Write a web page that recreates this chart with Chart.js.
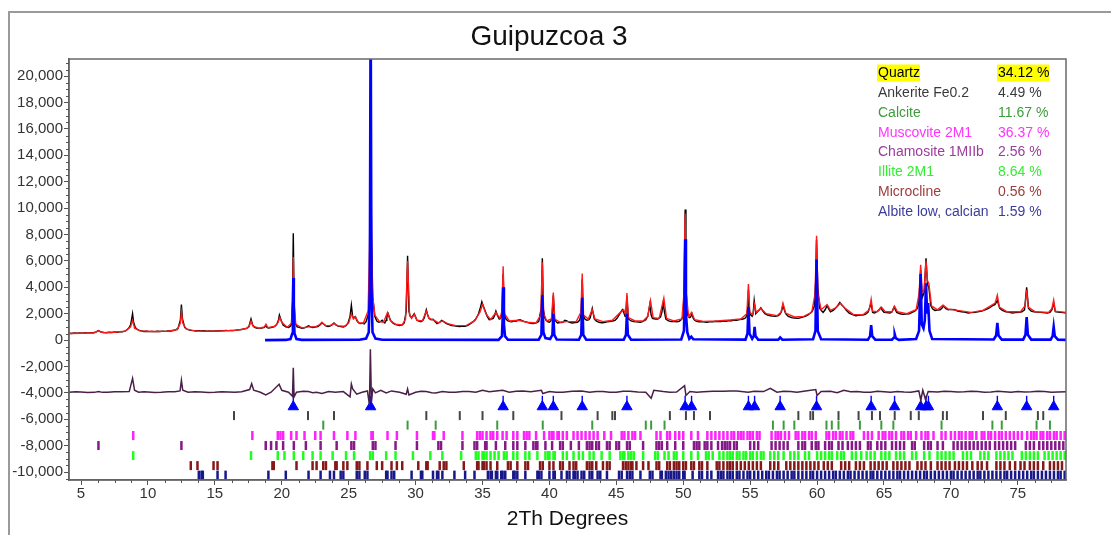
<!DOCTYPE html>
<html>
<head>
<meta charset="utf-8">
<title>Guipuzcoa 3</title>
<script src="https://cdn.jsdelivr.net/npm/chart.js@4.4.1/dist/chart.umd.min.js"></script>
<style>
  html, body { margin: 0; padding: 0; background: #fff; }
  #wrap { position: relative; width: 1111px; height: 535px; overflow: hidden; }
  #frame { position: absolute; left: 8px; top: 11px; width: 1200px; height: 600px;
           border-top: 2px solid #9a9a9a; border-left: 2px solid #9a9a9a; }
  canvas { position: absolute; left: 0; top: 0; }
</style>
</head>
<body>
<div id="wrap">
  <div id="frame"></div>
  <canvas id="xrd" width="1111" height="535"></canvas>
</div>
<script>
const FONT = '"Liberation Sans", Arial, sans-serif';
const chartTitle = 'Guipuzcoa 3';

// --- AXIS LABELS ---
const xLabelTicks = [5, 10, 15, 20, 25, 30, 35, 40, 45, 50, 55, 60, 65, 70, 75];
const yLabelTicks = [-10000, -8000, -6000, -4000, -2000, 0, 2000, 4000, 6000, 8000,
                     10000, 12000, 14000, 16000, 18000, 20000];

// --- PHASES (Rietveld result) ---
const phaseNames = ["Quartz", "Ankerite Fe0.2", "Calcite", "Muscovite 2M1",
                    "Chamosite 1MIIb", "Illite 2M1", "Microcline", "Albite low, calcian"];
const phasePercents = [34.12, 4.49, 11.67, 36.37, 2.56, 8.64, 0.56, 1.59];

// --- MEASURED PATTERN [2theta, counts] ---
const observed = [
  [4.1,520],[4.3,505],[4.5,540],[4.7,525],[4.9,545],[5.1,530],[5.3,560],[5.5,545],[5.7,570],
  [5.9,555],[6.1,600],[6.3,720],[6.5,610],[6.7,575],[6.9,560],[7.1,595],[7.3,575],[7.5,610],
  [7.7,595],[7.9,630],[8.1,625],[8.3,700],[8.45,780],[8.6,950],[8.7,1150],[8.8,1700],[8.85,2000],
  [8.92,1400],[9.05,950],[9.2,820],[9.35,740],[9.5,700],[9.7,655],[9.9,670],[10.1,640],
  [10.3,665],[10.5,645],[10.7,670],[10.9,650],[11.1,680],[11.3,660],[11.5,700],[11.7,690],
  [11.9,730],[12.1,790],[12.25,900],[12.42,1500],[12.5,2700],[12.58,1600],[12.75,950],
  [12.9,840],[13.0,790],[13.2,735],[13.4,720],[13.6,690],[13.8,715],[14.0,690],[14.2,705],
  [14.4,680],[14.6,700],[14.8,675],[15.0,700],[15.2,690],[15.4,710],[15.6,700],[15.8,725],
  [16.0,715],[16.2,740],[16.4,730],[16.6,760],[16.8,780],[17.0,800],[17.2,850],[17.4,900],
  [17.55,1050],[17.7,1600],[17.82,1150],[17.95,980],[18.1,920],[18.3,890],[18.5,910],[18.7,960],
  [18.8,1100],[18.9,960],[19.0,920],[19.2,950],[19.4,1010],[19.55,1100],[19.65,1250],[19.75,1500],
  [19.82,1900],[19.95,1500],[20.1,1150],[20.3,1000],[20.5,950],[20.65,1050],[20.72,1200],
  [20.8,3000],[20.86,8100],[20.92,3000],[21.0,1300],[21.15,1000],[21.3,960],[21.5,900],
  [21.7,930],[21.85,1000],[22.0,1080],[22.15,1000],[22.3,960],[22.5,990],[22.7,1020],
  [22.85,1150],[23.0,1300],[23.15,1200],[23.3,1080],[23.45,1030],[23.6,1060],[23.75,1150],
  [23.9,1300],[24.05,1150],[24.2,1060],[24.4,1030],[24.6,1000],[24.8,1100],[24.95,1300],
  [25.1,1800],[25.2,2650],[25.3,1750],[25.4,1700],[25.5,1780],[25.6,1500],[25.7,1350],
  [25.85,1250],[26.0,1280],[26.15,1220],[26.3,1400],[26.45,1900],[26.52,2600],[26.58,9000],
  [26.64,19200],[26.7,8000],[26.8,3200],[26.95,1800],[27.1,1450],[27.25,1350],[27.4,1420],
  [27.5,1500],[27.6,1380],[27.7,1300],[27.8,1500],[27.85,1750],[27.95,2000],[28.05,1700],
  [28.15,1450],[28.3,1300],[28.45,1200],[28.6,1150],[28.8,1100],[29.0,1150],[29.15,1300],
  [29.3,2200],[29.4,6400],[29.5,2200],[29.6,1800],[29.7,1700],[29.8,1850],[29.9,2000],
  [30.0,1750],[30.1,1500],[30.25,1450],[30.4,1400],[30.55,1500],[30.65,1700],[30.75,2100],
  [30.8,2300],[30.9,1900],[31.0,1650],[31.15,1550],[31.3,1580],[31.45,1400],[31.6,1250],
  [31.8,1350],[31.95,1500],[32.1,1400],[32.3,1250],[32.5,1180],[32.7,1100],[32.9,1080],
  [33.1,1050],[33.3,1030],[33.5,1070],[33.7,1050],[33.9,1120],[34.1,1250],[34.3,1400],
  [34.5,1600],[34.7,2000],[34.85,2500],[34.95,2900],[35.05,2600],[35.2,2200],[35.35,1800],
  [35.5,1550],[35.65,1600],[35.8,1650],[35.92,1900],[36.0,2200],[36.1,1900],[36.25,1600],
  [36.35,1650],[36.45,1900],[36.54,5000],[36.64,1900],[36.75,1600],[36.9,1450],[37.05,1400],
  [37.2,1380],[37.35,1450],[37.5,1420],[37.65,1520],[37.8,1550],[37.95,1480],[38.1,1420],
  [38.25,1380],[38.4,1320],[38.6,1280],[38.8,1250],[39.0,1300],[39.2,1400],[39.4,2500],
  [39.47,6200],[39.55,2300],[39.65,1700],[39.75,1500],[39.9,1380],[40.0,1350],[40.1,1450],
  [40.2,1700],[40.29,3400],[40.38,1600],[40.5,1400],[40.6,1300],[40.8,1330],[41.0,1350],
  [41.15,1500],[41.3,1450],[41.5,1350],[41.7,1300],[41.9,1330],[42.1,1350],[42.25,1500],
  [42.38,2000],[42.45,4600],[42.52,1900],[42.65,1600],[42.8,1500],[42.95,1550],[43.05,1700],
  [43.2,2400],[43.35,1600],[43.5,1450],[43.7,1350],[43.9,1320],[44.1,1330],[44.3,1380],
  [44.5,1400],[44.7,1450],[44.9,1500],[45.05,1650],[45.2,1900],[45.35,2150],[45.45,2300],
  [45.55,2100],[45.65,1800],[45.72,2200],[45.79,3300],[45.9,1600],[46.1,1450],[46.3,1400],
  [46.5,1380],[46.8,1350],[47.0,1420],[47.2,1550],[47.35,1800],[47.5,2700],[47.6,1900],
  [47.7,1650],[47.9,1600],[48.1,1600],[48.3,1750],[48.4,2100],[48.5,2800],[48.6,2100],
  [48.7,1600],[48.9,1450],[49.1,1400],[49.3,1420],[49.5,1380],[49.7,1420],[49.85,1550],
  [50.0,1800],[50.08,4500],[50.14,9900],[50.2,4000],[50.32,1900],[50.45,1700],[50.55,1750],
  [50.65,2000],[50.75,1650],[50.85,1500],[51.0,1420],[51.2,1380],[51.4,1400],[51.6,1360],
  [51.8,1350],[52.0,1400],[52.2,1380],[52.4,1430],[52.6,1410],[52.8,1400],[53.0,1450],
  [53.2,1430],[53.4,1480],[53.6,1460],[53.8,1520],[54.0,1500],[54.2,1560],[54.4,1580],
  [54.6,1650],[54.7,1750],[54.82,2400],[54.87,3800],[54.95,2200],[55.05,1900],[55.15,1800],
  [55.22,2000],[55.3,3000],[55.42,2000],[55.5,2100],[55.6,2200],[55.7,2300],[55.8,2450],
  [55.95,2200],[56.1,2000],[56.3,1900],[56.5,1850],[56.7,1820],[56.9,1800],[57.1,1850],
  [57.25,2000],[57.35,2200],[57.45,2650],[57.55,2300],[57.65,2000],[57.85,1800],[58.1,1700],
  [58.3,1680],[58.6,1650],[58.8,1700],[59.1,1800],[59.3,1900],[59.5,2050],[59.65,2200],
  [59.8,2600],[59.9,4500],[59.96,7600],[60.05,4000],[60.2,2400],[60.35,2200],[60.45,2100],
  [60.6,2300],[60.75,2600],[60.9,2300],[61.0,2150],[61.2,2250],[61.35,2400],[61.5,2550],
  [61.7,2850],[61.85,2650],[62.0,2500],[62.2,2250],[62.4,2050],[62.6,1950],[62.9,1850],
  [63.1,1880],[63.4,1900],[63.6,1950],[63.8,2100],[63.97,2600],[64.04,2800],[64.15,2100],
  [64.3,2050],[64.45,2150],[64.6,2250],[64.75,2450],[64.85,2300],[65.0,2100],[65.2,2080],
  [65.45,2050],[65.6,2150],[65.75,2500],[65.85,2300],[65.95,2100],[66.2,2000],[66.4,1950],
  [66.6,1980],[66.9,2000],[67.1,2100],[67.3,2200],[67.5,2400],[67.6,2800],[67.74,5300],
  [67.85,3200],[68.0,3600],[68.14,6200],[68.25,4200],[68.35,4000],[68.5,2600],[68.65,2350],
  [68.8,2250],[69.0,2280],[69.2,2300],[69.35,2450],[69.45,2600],[69.6,2400],[69.8,2300],
  [70.0,2330],[70.3,2300],[70.5,2200],[70.8,2150],[71.0,2120],[71.3,2050],[71.5,2080],
  [71.8,2100],[72.0,2150],[72.3,2200],[72.5,2280],[72.7,2350],[72.9,2450],[73.1,2600],
  [73.3,2700],[73.47,3000],[73.65,2400],[73.85,2250],[74.1,2150],[74.3,2120],[74.6,2050],
  [74.8,2080],[75.1,2100],[75.3,2150],[75.5,2300],[75.66,4000],[75.8,2400],[76.0,2200],
  [76.2,2150],[76.4,2120],[76.7,2100],[76.9,2080],[77.2,2050],[77.4,2100],[77.55,2300],
  [77.68,2800],[77.8,2150],[78.0,2120],[78.2,2100],[78.4,2080],[78.6,2050]
];

// --- CALCULATED PATTERN ---
const calculated = [
  [4.1,500],[5.0,520],[6.0,560],[6.3,700],[6.6,570],[7.5,590],[8.3,680],[8.7,1000],[8.85,1500],
  [9.0,900],[9.4,700],[10.5,650],[11.5,680],[12.2,800],[12.42,1300],[12.5,2100],[12.6,1300],
  [12.85,850],[13.5,700],[15.0,680],[16.5,740],[17.3,860],[17.55,1000],[17.7,1450],[17.85,1050],
  [18.3,900],[18.7,1000],[18.82,1200],[18.95,950],[19.5,1050],[19.7,1300],[19.85,1700],
  [20.0,1350],[20.4,980],[20.75,1300],[20.82,3000],[20.86,6300],[20.92,2600],[21.05,1200],
  [21.5,930],[22.0,1000],[22.5,1000],[22.8,1150],[23.0,1360],[23.25,1100],[23.6,1100],
  [23.9,1250],[24.2,1080],[24.7,1050],[25.0,1300],[25.2,2000],[25.35,1600],[25.5,1750],
  [25.75,1300],[26.1,1300],[26.45,2200],[26.56,7000],[26.64,17400],[26.72,6000],[26.78,3500],
  [26.95,1900],[27.3,1400],[27.6,1350],[27.9,2100],[28.1,1500],[28.5,1200],[29.0,1150],
  [29.25,1600],[29.4,6000],[29.55,1900],[29.7,1650],[29.9,1950],[30.1,1500],[30.5,1450],
  [30.8,2200],[31.0,1650],[31.4,1500],[31.7,1300],[32.0,1450],[32.4,1250],[33.0,1100],
  [33.8,1120],[34.4,1450],[34.8,2100],[35.0,2700],[35.25,2000],[35.6,1550],[36.0,2100],
  [36.3,1650],[36.45,2200],[36.54,5600],[36.64,2000],[37.0,1450],[37.7,1500],[38.3,1350],
  [39.0,1300],[39.35,1900],[39.47,5900],[39.57,2000],[39.8,1450],[40.15,1600],[40.29,3600],
  [40.4,1600],[40.8,1350],[41.3,1400],[42.0,1400],[42.35,2100],[42.45,5050],[42.55,1900],
  [42.9,1600],[43.2,2300],[43.4,1600],[44.0,1400],[44.7,1500],[45.3,2100],[45.55,2300],
  [45.7,1900],[45.79,3560],[45.9,1700],[46.4,1450],[47.0,1450],[47.35,1800],[47.55,3000],
  [47.75,1700],[48.2,1650],[48.55,3200],[48.75,1650],[49.3,1450],[49.9,1600],[50.05,3500],
  [50.14,9600],[50.22,3500],[50.4,1800],[50.62,2100],[50.85,1550],[51.5,1420],[52.5,1450],
  [53.5,1520],[54.3,1600],[54.75,2000],[54.87,4250],[54.97,2100],[55.2,1900],[55.33,2700],
  [55.45,2100],[55.8,2400],[56.2,2000],[57.0,1850],[57.3,2100],[57.45,2800],[57.65,2050],
  [58.3,1750],[59.0,1800],[59.6,2100],[59.85,3500],[59.96,7900],[60.06,3500],[60.3,2300],
  [60.75,2700],[61.0,2250],[61.4,2450],[61.75,2800],[62.1,2400],[62.7,1950],[63.4,1900],
  [63.9,2300],[64.04,3100],[64.15,2200],[64.5,2150],[64.8,2500],[65.1,2150],[65.6,2150],
  [65.79,2570],[66.0,2150],[66.7,2000],[67.4,2300],[67.62,3500],[67.74,5700],[67.85,3600],
  [68.0,3800],[68.14,6000],[68.25,4500],[68.35,4300],[68.55,2600],[69.0,2300],[69.4,2650],
  [69.8,2350],[70.5,2250],[71.5,2100],[72.4,2250],[72.9,2550],[73.3,2800],[73.47,3400],
  [73.62,2500],[74.2,2150],[75.2,2150],[75.55,2600],[75.66,3800],[75.78,2500],[76.3,2150],
  [77.3,2100],[77.55,2400],[77.68,3030],[77.8,2200],[78.6,2100]
];

// --- QUARTZ CONTRIBUTION ---
const quartzCalc = [
  [18.75,0],[20.3,15],[20.65,80],[20.78,500],[20.83,2000],[20.86,4700],[20.9,2000],[20.95,500],
  [21.1,80],[21.5,20],[25.8,30],[26.3,120],[26.5,600],[26.58,4000],[26.64,26000],[26.7,4000],
  [26.78,600],[27.0,120],[27.5,30],[36.2,20],[36.45,300],[36.5,1500],[36.54,4000],[36.6,1200],
  [36.68,300],[36.9,30],[39.2,30],[39.4,400],[39.47,3400],[39.55,600],[39.7,150],[40.05,80],
  [40.22,400],[40.29,2000],[40.36,400],[40.55,40],[42.2,30],[42.38,400],[42.45,3200],
  [42.53,400],[42.75,30],[45.55,30],[45.72,400],[45.79,2000],[45.86,400],[46.1,30],[49.85,50],
  [50.05,700],[50.1,3000],[50.14,7650],[50.2,2000],[50.3,600],[50.45,100],[50.6,250],[50.75,60],
  [54.65,40],[54.8,500],[54.87,2500],[54.95,500],[55.15,100],[55.27,300],[55.33,1000],
  [55.4,300],[55.6,30],[57.1,30],[57.24,200],[57.4,30],[59.7,60],[59.88,700],[59.96,6100],
  [60.05,700],[60.3,60],[63.8,30],[63.96,300],[64.04,1140],[64.12,300],[64.35,30],[65.6,30],
  [65.75,200],[65.8,450],[65.88,150],[66.1,20],[67.4,80],[67.62,700],[67.74,5000],[67.82,1200],
  [67.95,900],[68.05,1500],[68.14,4300],[68.22,2000],[68.3,2800],[68.4,700],[68.6,80],
  [73.2,50],[73.38,350],[73.47,1300],[73.56,350],[73.8,40],[75.4,40],[75.57,400],[75.66,1740],
  [75.75,400],[76.0,40],[77.45,40],[77.6,300],[77.68,1000],[77.76,300],[78.0,30],[78.6,20]
];

// --- DIFFERENCE CURVE (shifted down) ---
const difference = [
  [4.1,-3950],[4.6,-3910],[5,-3930],[5.5,-3970],[6,-3960],[6.3,-3900],[6.6,-3960],[7,-3950],
  [7.5,-3910],[8,-3920],[8.6,-3900],[8.85,-2900],[9.0,-3800],[9.3,-3950],[9.7,-3910],[10,-3930],
  [10.5,-3970],[11,-3960],[11.5,-3910],[12,-3920],[12.4,-3850],[12.5,-3050],[12.6,-3800],
  [13,-3950],[13.5,-3910],[14,-3940],[14.5,-3970],[15,-3960],[15.5,-3915],[16,-3930],[16.5,-3960],
  [17,-3920],[17.6,-3750],[17.75,-3300],[17.9,-3800],[18.4,-3950],[18.8,-4150],[19.2,-3950],
  [19.8,-3350],[20,-3800],[20.5,-3950],[20.8,-4250],[20.86,-2100],[20.92,-4300],[21.1,-3950],
  [21.6,-3880],[22,-3900],[22.3,-3980],[22.6,-3950],[23.0,-4050],[23.5,-3900],[24,-3950],
  [24.6,-3900],[25.1,-4300],[25.2,-3330],[25.3,-3700],[25.6,-4100],[26.0,-3950],[26.4,-3850],
  [26.55,-4900],[26.62,-700],[26.7,-4700],[26.8,-3700],[27.0,-4000],[27.4,-3800],[27.8,-4000],
  [28.2,-3850],[28.8,-3950],[29.3,-4100],[29.4,-3700],[29.5,-4150],[30,-3950],[30.4,-3880],
  [30.8,-3900],[31.2,-3980],[31.5,-4000],[32,-3900],[32.5,-3960],[33,-3950],[33.5,-3890],
  [34,-3900],[34.5,-3950],[35,-3800],[35.5,-3920],[36,-3850],[36.5,-3800],[37,-3950],
  [37.5,-3870],[38,-3850],[38.6,-3920],[39.4,-3800],[39.5,-4050],[40,-3900],[40.5,-3960],
  [41,-3950],[41.7,-3880],[42.4,-3850],[43,-3950],[43.5,-3900],[44,-3900],[44.5,-3950],
  [45,-3950],[45.5,-3870],[46,-3880],[46.6,-3940],[47.2,-3950],[47.6,-4400],[47.8,-3800],
  [48.5,-3900],[49,-3950],[49.5,-3930],[50.1,-3450],[50.2,-4200],[50.5,-3900],[51,-3950],
  [51.5,-3920],[52.2,-3870],[53,-3880],[53.5,-3850],[54,-3850],[54.85,-3950],[55.3,-3880],
  [56,-3900],[56.5,-3650],[57,-3950],[57.5,-3880],[58,-3900],[58.5,-3950],[59,-3880],
  [59.9,-3750],[60.0,-4200],[60.3,-3900],[61,-3870],[61.5,-3980],[62,-3800],[62.5,-3920],
  [63,-3900],[63.5,-3950],[64,-3950],[64.5,-3880],[65,-3920],[65.5,-3950],[66,-3900],
  [66.5,-3940],[67,-3950],[67.6,-3850],[67.75,-4550],[67.9,-3800],[68.1,-4500],[68.3,-3900],
  [69,-3930],[69.5,-3880],[70,-3900],[70.5,-3940],[71,-3920],[71.5,-3880],[72,-3900],
  [72.5,-3950],[73,-3930],[73.5,-3880],[74,-3910],[74.5,-3950],[75,-3900],[75.5,-3940],
  [76,-3920],[76.5,-3880],[77,-3900],[77.5,-3950],[78,-3930],[78.6,-3920]
];

// --- REFLECTION POSITIONS (2theta) ---
const quartzPeaks = [20.86, 26.64, 36.54, 39.47, 40.29, 42.45, 45.79, 50.14, 50.62, 54.87, 55.33,
  57.24, 59.96, 64.04, 65.79, 67.74, 68.14, 68.32, 73.47, 75.66, 77.68];

const ankeriteTicks = [16.43, 21.96, 23.9, 30.8, 33.3, 35.0, 37.3, 40.9, 43.6, 44.7, 44.9, 49.0,
  50.2, 50.8, 52.0, 58.6, 59.5, 59.7, 61.6, 63.1, 64.1, 64.7, 65.8, 67.0, 67.6, 69.4, 69.7,
  72.4, 74.1, 76.5, 76.9];

const calciteTicks = [23.1, 29.4, 31.5, 36.1, 39.5, 43.2, 47.2, 47.6, 48.6, 56.7, 57.5, 58.3,
  60.7, 61.1, 61.6, 63.2, 64.8, 65.7, 69.3, 73.1, 73.8, 76.4, 77.4];

const muscoviteTicks = [8.9, 17.8, 19.7, 19.9, 20.1, 20.7, 21.1, 21.7, 22.5, 22.9, 23.9, 24.9,
  25.5, 26.7, 26.8, 27.9, 28.6, 30.1, 31.3, 31.4, 32.1, 33.5, 34.6, 34.8, 35.0, 35.3, 35.6,
  35.8, 36.1, 36.5, 36.8, 37.3, 37.6, 38.1, 38.3, 38.5, 39.0, 39.6, 40.0, 40.2, 40.3, 40.6,
  40.7, 41.0, 41.3, 41.8, 42.1, 42.4, 42.7, 43.0, 43.3, 43.6, 44.1, 44.6, 45.4, 45.6, 45.9,
  46.2, 46.4, 46.8, 48.0, 48.3, 48.8, 49.0, 49.4, 49.7, 50.0, 50.6, 51.1, 51.8, 52.1, 52.4,
  52.7, 53.0, 53.3, 53.6, 53.8, 54.1, 54.3, 54.5, 54.8, 55.0, 55.2, 55.5, 55.7, 56.6, 56.9,
  57.1, 57.3, 57.6, 57.9, 58.4, 58.6, 58.9, 59.1, 59.4, 59.6, 59.9, 60.7, 60.9, 61.2, 61.4,
  61.7, 61.9, 62.2, 62.5, 62.7, 63.5, 63.8, 64.1, 64.6, 64.9, 65.1, 65.4, 65.6, 65.9, 66.3,
  66.5, 66.8, 67.0, 67.4, 67.8, 68.1, 68.3, 68.7, 69.3, 69.6, 70.0, 70.3, 70.6, 70.8, 71.1,
  71.4, 71.6, 71.9, 72.3, 72.5, 72.8, 73.0, 73.3, 73.6, 73.8, 74.1, 74.4, 74.7, 75.0, 75.3,
  75.7, 76.0, 76.2, 76.4, 76.7, 76.9, 77.2, 77.4, 77.7, 77.9, 78.2, 78.5];

const chamositeTicks = [6.3, 12.5, 18.8, 19.2, 19.6, 20.1, 20.9, 21.8, 22.9, 24.1, 25.2, 25.4,
  26.8, 27.0, 28.5, 30.1, 31.7, 31.9, 33.5, 34.4, 34.6, 35.2, 35.3, 36.0, 36.7, 37.3, 37.6,
  38.2, 38.8, 39.0, 39.1, 39.7, 40.2, 40.8, 41.0, 41.6, 42.2, 42.8, 43.0, 43.2, 43.5, 43.7,
  44.3, 44.5, 45.0, 45.2, 45.8, 46.0, 47.0, 48.0, 48.2, 48.4, 48.8, 49.4, 50.0, 50.8, 51.0,
  51.2, 51.6, 51.8, 52.1, 52.6, 52.9, 53.1, 53.3, 53.5, 53.8, 54.0, 55.0, 55.3, 55.6, 56.6,
  56.9, 57.2, 57.5, 57.8, 58.6, 58.9, 59.1, 59.6, 59.9, 60.1, 60.6, 60.9, 61.1, 61.6, 61.9,
  62.3, 62.6, 62.9, 63.2, 63.8, 64.0, 64.5, 64.8, 65.1, 65.6, 65.9, 66.2, 66.5, 67.1, 67.3,
  68.0, 68.3, 68.5, 69.0, 69.4, 70.2, 70.5, 70.8, 71.1, 71.4, 71.7, 72.0, 72.3, 72.6, 72.9,
  73.3, 73.6, 73.9, 74.2, 74.5, 74.8, 75.6, 75.9, 76.2, 76.6, 76.9, 77.2, 77.5, 77.8, 78.1,
  78.4];

const illiteTicks = [8.9, 17.7, 19.7, 20.2, 20.9, 21.6, 22.3, 22.9, 23.8, 24.8, 25.4, 26.6,
  26.8, 27.8, 28.5, 29.8, 31.1, 32.0, 33.4, 34.5, 34.7, 35.0, 35.1, 35.3, 35.6, 35.9, 36.2,
  36.6, 36.8, 37.3, 37.6, 38.2, 38.5, 39.1, 39.7, 39.9, 40.0, 40.3, 40.4, 41.0, 41.3, 41.8,
  42.2, 42.5, 43.0, 43.3, 43.9, 44.5, 45.3, 45.5, 45.6, 45.9, 46.1, 46.3, 47.0, 47.9, 48.1,
  48.6, 48.9, 49.3, 49.5, 50.0, 50.6, 51.1, 51.7, 51.9, 52.2, 52.7, 53.0, 53.3, 53.5, 53.7,
  54.0, 54.2, 54.5, 54.7, 55.0, 55.2, 55.5, 55.8, 56.0, 56.5, 56.8, 57.1, 57.5, 58.0, 58.3,
  58.6, 59.1, 59.4, 60.0, 60.3, 60.6, 60.9, 61.1, 61.5, 61.8, 62.0, 62.6, 62.9, 63.3, 63.7,
  64.0, 64.3, 64.8, 65.1, 65.4, 65.9, 66.2, 66.5, 67.1, 67.4, 68.0, 68.4, 69.0, 69.3, 69.6,
  69.9, 70.2, 70.9, 71.2, 71.5, 72.2, 72.5, 72.8, 73.4, 73.7, 74.0, 74.3, 74.6, 75.3, 75.6,
  75.9, 76.2, 76.5, 77.0, 77.3, 77.6, 77.9, 78.2, 78.5];

const microclineTicks = [13.2, 13.7, 14.9, 15.2, 19.3, 19.4, 21.1, 22.3, 22.6, 23.1, 23.3, 24.0,
  24.1, 24.6, 24.9, 25.6, 25.8, 26.4, 27.1, 27.5, 28.2, 28.6, 29.0, 30.2, 30.8, 30.9, 31.8,
  32.1, 32.3, 33.6, 34.6, 34.7, 35.0, 35.1, 35.3, 35.6, 36.1, 36.9, 37.1, 37.6, 38.2, 38.4,
  39.3, 39.5, 40.0, 40.3, 40.8, 41.0, 41.5, 41.8, 42.0, 42.8, 43.0, 43.2, 43.5, 44.0, 44.3,
  44.5, 45.5, 45.7, 45.9, 46.1, 46.2, 46.5, 47.0, 47.4, 48.0, 48.2, 48.8, 49.0, 49.3, 49.5,
  49.7, 50.0, 50.2, 50.6, 50.8, 51.2, 51.4, 51.8, 52.5, 52.7, 53.0, 53.3, 53.5, 53.7, 54.0,
  54.3, 54.6, 54.9, 55.2, 55.5, 55.8, 56.5, 56.8, 57.1, 57.7, 58.0, 58.3, 58.6, 58.9, 59.2,
  59.5, 59.8, 60.1, 60.5, 60.8, 61.1, 61.8, 62.1, 62.4, 62.9, 63.2, 63.5, 64.0, 64.3, 64.6,
  64.9, 65.2, 65.7, 66.0, 66.3, 66.6, 66.9, 67.5, 67.8, 68.1, 68.5, 69.0, 69.3, 69.6, 69.9,
  70.3, 70.6, 70.9, 71.2, 71.6, 72.0, 72.3, 72.7, 73.4, 73.7, 74.0, 74.4, 74.8, 75.2, 75.5,
  75.9, 76.2, 76.5, 76.9, 77.4, 77.7, 78.0, 78.3];

const albiteTicks = [13.8, 14.0, 14.1, 15.2, 15.8, 19.0, 20.3, 22.0, 22.9, 23.6, 23.9, 24.4,
  24.6, 25.6, 25.8, 26.2, 26.4, 27.8, 27.9, 28.2, 28.4, 29.7, 30.4, 30.5, 31.3, 31.6, 31.7,
  32.0, 32.9, 33.7, 34.4, 35.4, 35.6, 35.7, 36.0, 36.1, 36.4, 36.5, 36.7, 37.3, 37.4, 37.6,
  38.2, 39.1, 39.2, 39.4, 40.0, 40.3, 40.4, 40.9, 41.3, 41.5, 41.8, 41.9, 42.1, 42.4, 42.6,
  43.0, 43.2, 43.6, 43.8, 44.3, 45.2, 45.4, 45.8, 46.0, 46.2, 46.8, 47.5, 47.7, 48.3, 48.4,
  48.7, 48.9, 49.1, 49.3, 49.5, 49.7, 50.0, 50.1, 50.7, 51.2, 51.4, 51.8, 52.1, 52.6, 52.8,
  53.0, 53.3, 53.5, 53.7, 54.0, 54.2, 54.5, 54.8, 55.0, 55.3, 55.6, 55.9, 56.2, 56.4, 56.7,
  57.0, 57.2, 57.5, 57.8, 58.1, 58.3, 58.6, 58.9, 59.2, 59.5, 59.7, 60.0, 60.3, 60.6, 60.9,
  61.2, 61.4, 61.7, 62.0, 62.3, 62.5, 62.8, 63.1, 63.4, 63.7, 64.0, 64.2, 64.5, 64.8, 65.1,
  65.4, 65.7, 66.0, 66.2, 66.5, 66.8, 67.1, 67.4, 67.7, 68.0, 68.2, 68.5, 68.8, 69.1, 69.4,
  69.7, 70.0, 70.2, 70.5, 70.8, 71.1, 71.4, 71.7, 72.0, 72.2, 72.5, 72.8, 73.1, 73.4, 73.7,
  74.0, 74.2, 74.5, 74.8, 75.1, 75.4, 75.7, 76.0, 76.2, 76.5, 76.8, 77.1, 77.4, 77.7, 78.0,
  78.2, 78.5];

// --- ROW OFFSETS FOR THE REFLECTION MARKERS ---
const quartzMarkLevel = -5050;
const quartzStemLevel = -4560;
const rowLevels = [-5720, -6440, -7230, -7990, -8750, -9510, -10230];

// --- STYLES ---
const phaseTextColors = ["#000000", "#3a3a3a", "#3c9c3c", "#ff33ff", "#9c3c9c", "#33ee33",
                         "#9c3c3c", "#3c3c9c"];
const tickRows = [
  { ticks: ankeriteTicks,   color: "#444444", width: 2 },
  { ticks: calciteTicks,    color: "#3c9c3c", width: 2 },
  { ticks: muscoviteTicks,  color: "#ff22ff", width: 2.5 },
  { ticks: chamositeTicks,  color: "#86188a", width: 2.5 },
  { ticks: illiteTicks,     color: "#1eff1e", width: 2.5 },
  { ticks: microclineTicks, color: "#861818", width: 2.5 },
  { ticks: albiteTicks,     color: "#18188a", width: 2.5 }
];

function pts(pairs) {
  return pairs.map(([x, y]) => ({ x, y }));
}

function line(data, color, width, order) {
  return {
    data: pts(data), showLine: true, borderColor: color, borderWidth: width,
    pointRadius: 0, pointHoverRadius: 0, order: order
  };
}

function markerRow(xs, level, color, width) {
  return {
    data: xs.map(x => ({ x, y: level })), showLine: false,
    pointStyle: 'line', rotation: 90, pointRadius: 4.5, pointHoverRadius: 4.5,
    borderColor: color, pointBorderColor: color, borderWidth: width, pointBorderWidth: width,
    order: 5
  };
}

const datasets = [
  line(quartzCalc, '#0000ff', 2.6, 1),
  line(calculated, '#ff1a1a', 1.4, 2),
  line(observed, '#000000', 1.4, 3),
  line(difference, '#4a1f48', 1.5, 4),
  {
    data: quartzPeaks.map(x => ({ x, y: quartzMarkLevel })), showLine: false,
    pointStyle: 'triangle', pointRadius: 6, pointHoverRadius: 6,
    backgroundColor: '#0000ff', borderColor: '#0000ff', borderWidth: 1, order: 5
  },
  markerRow(quartzPeaks, quartzStemLevel, '#0000ff', 1.4),
  ...tickRows.map((r, i) => markerRow(r.ticks, rowLevels[i], r.color, r.width))
];

// minor ticks between the labelled ones
const xMinor = [];
xLabelTicks.forEach(v => [1.25, 2.5, 3.75].forEach(d => { if (v + d <= 78.6) xMinor.push(v + d); }));
const yMinor = [];
yLabelTicks.forEach(v => [-500, 500, 1000, 1500].forEach(d => {
  const m = v + d;
  if (m >= -10600 && m <= 21300 && !yMinor.includes(m) && m % 2000 !== 0) yMinor.push(m);
}));

// --- PLUGINS ---
const plotFrame = {
  id: 'plotFrame',
  afterDraw(chart) {
    const { ctx, chartArea: a, scales: { x, y } } = chart;
    ctx.save();
    ctx.strokeStyle = '#6a6a6a';
    ctx.lineWidth = 1.5;
    ctx.strokeRect(a.left, a.top, a.right - a.left, a.bottom - a.top);
    ctx.strokeStyle = '#555';
    ctx.lineWidth = 1;
    ctx.beginPath();
    xMinor.forEach(v => {
      const px = Math.round(x.getPixelForValue(v)) + 0.5;
      ctx.moveTo(px, a.bottom); ctx.lineTo(px, a.bottom + 3);
    });
    yMinor.forEach(v => {
      const py = Math.round(y.getPixelForValue(v)) + 0.5;
      ctx.moveTo(a.left, py); ctx.lineTo(a.left - 3, py);
    });
    ctx.stroke();

    // title, centred a little right of the canvas middle
    ctx.fillStyle = '#111';
    ctx.font = '28px ' + FONT;
    ctx.textAlign = 'center';
    ctx.textBaseline = 'middle';
    ctx.fillText(chartTitle, 549, 37);
    ctx.restore();
  }
};

const phaseTable = {
  id: 'phaseTable',
  afterDraw(chart) {
    const ctx = chart.ctx;
    ctx.save();
    ctx.font = '14px ' + FONT;
    ctx.textBaseline = 'middle';
    phaseNames.forEach((name, i) => {
      const y = 73 + i * 19.9;
      const pct = phasePercents[i].toFixed(2) + ' %';
      if (i === 0) {
        ctx.fillStyle = '#ffff00';
        ctx.fillRect(877, y - 8.5, ctx.measureText(name).width + 1, 17);
        ctx.fillRect(997, y - 8.5, ctx.measureText(pct).width + 1, 17);
      }
      ctx.fillStyle = phaseTextColors[i];
      ctx.fillText(name, 878, y);
      ctx.fillText(pct, 998, y);
    });
    ctx.restore();
  }
};

// --- CHART ---
new Chart(document.getElementById('xrd'), {
  type: 'scatter',
  data: { datasets },
  options: {
    responsive: false,
    animation: false,
    events: [],
    layout: { padding: { left: 0, right: 45, top: 59, bottom: 0 } },
    plugins: {
      legend: { display: false },
      tooltip: { enabled: false },
      title: { display: false }
    },
    scales: {
      x: {
        type: 'linear', min: 4.1, max: 78.6,
        afterBuildTicks: s => { s.ticks = xLabelTicks.map(v => ({ value: v })); },
        afterFit: s => { s.height = 55; },
        ticks: {
          autoSkip: false, maxRotation: 0, padding: 0, color: '#333',
          font: { family: FONT, size: 15 },
          callback: v => String(v)
        },
        grid: { drawOnChartArea: false, drawTicks: true, tickLength: 5, color: '#555' },
        border: { display: true, color: '#555', width: 1.5 },
        title: {
          display: true, text: '2Th Degrees', color: '#111',
          font: { family: FONT, size: 21 }, padding: { top: 0, bottom: 3 }
        }
      },
      y: {
        type: 'linear', min: -10600, max: 21300,
        afterBuildTicks: s => { s.ticks = yLabelTicks.map(v => ({ value: v })); },
        afterFit: s => { s.width = 69; },
        ticks: {
          autoSkip: false, padding: 1, color: '#333',
          font: { family: FONT, size: 15 },
          callback: v => v.toLocaleString('en-US')
        },
        grid: { drawOnChartArea: false, drawTicks: true, tickLength: 5, color: '#555' },
        border: { display: true, color: '#555', width: 1.5 }
      }
    }
  },
  plugins: [plotFrame, phaseTable]
});
</script>
</body>
</html>
